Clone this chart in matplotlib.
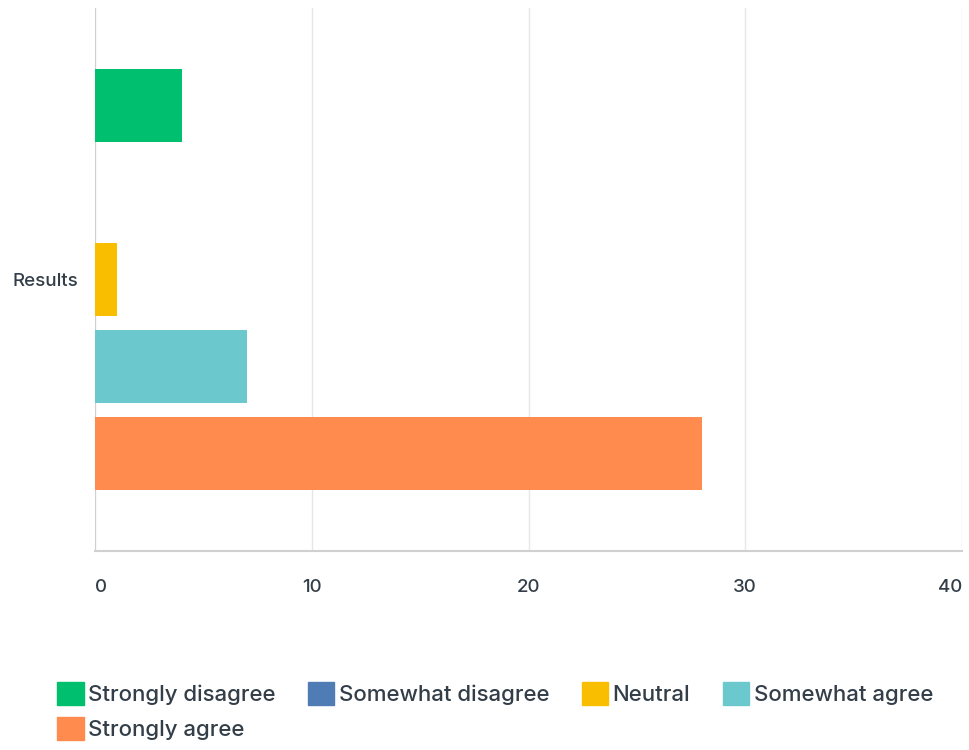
import matplotlib.pyplot as plt
from matplotlib.patches import Patch

plt.rcParams['font.family'] = ['Inter', 'DejaVu Sans']

# 資料
category = 'Results'
labels = ['Strongly disagree', 'Somewhat disagree', 'Neutral', 'Somewhat agree', 'Strongly agree']
values = [4, 0, 1, 7, 28]
colors = ['#00BF6F', '#507CB6', '#F9BE00', '#6BC8CD', '#FF8B4F']
xticks = [0, 10, 20, 30, 40]

text_color = '#333E48'

fig = plt.figure(figsize=(9.69, 7.5), dpi=100)
ax = fig.add_axes([95 / 969, 1 - 551 / 750, (962 - 95) / 969, (551 - 8) / 750])

# 每個系列一條橫條
step = 0.16
height = 0.134
for i, (lab, val, col) in enumerate(zip(labels, values, colors)):
    ax.barh((i - 2) * step, val, height=height, color=col, zorder=3)

ax.set_xlim(0, 40)
ax.set_ylim(0.5, -0.5)
ax.set_xticks(xticks)
ax.set_xticklabels([str(t) for t in xticks], fontsize=13.5, color=text_color, fontweight='medium')
ax.get_xticklabels()[0].set_ha('left')
ax.get_xticklabels()[-1].set_ha('right')
ax.set_yticks([0])
ax.set_yticklabels([category], fontsize=13.5, color=text_color, fontweight='medium')
ax.tick_params(axis='x', length=0, pad=20)
ax.tick_params(axis='y', length=0, pad=12)

ax.grid(axis='x', color='#E6E6E6', linewidth=1, zorder=0)
for s in ['top', 'right']:
    ax.spines[s].set_visible(False)
ax.spines['left'].set_color('#D0D0D0')
ax.spines['bottom'].set_color('#D0D0D0')
ax.spines['bottom'].set_linewidth(1.5)

# 圖例（逐列排列）
handles = [Patch(facecolor=c, edgecolor=c, label=l) for l, c in zip(labels, colors)]
order = [0, 4, 1, 2, 3]
fig.legend(handles=[handles[k] for k in order], loc='upper left',
           bbox_to_anchor=(48 / 969, 1 - 673 / 750),
           ncol=4, frameon=False, labelcolor=text_color,
           prop={'weight': 'medium', 'size': 16},
           handlelength=1.2, handleheight=1.2, handletextpad=0.2,
           columnspacing=1.45, labelspacing=0.55, borderaxespad=0)

plt.savefig('out.png', dpi=100)
